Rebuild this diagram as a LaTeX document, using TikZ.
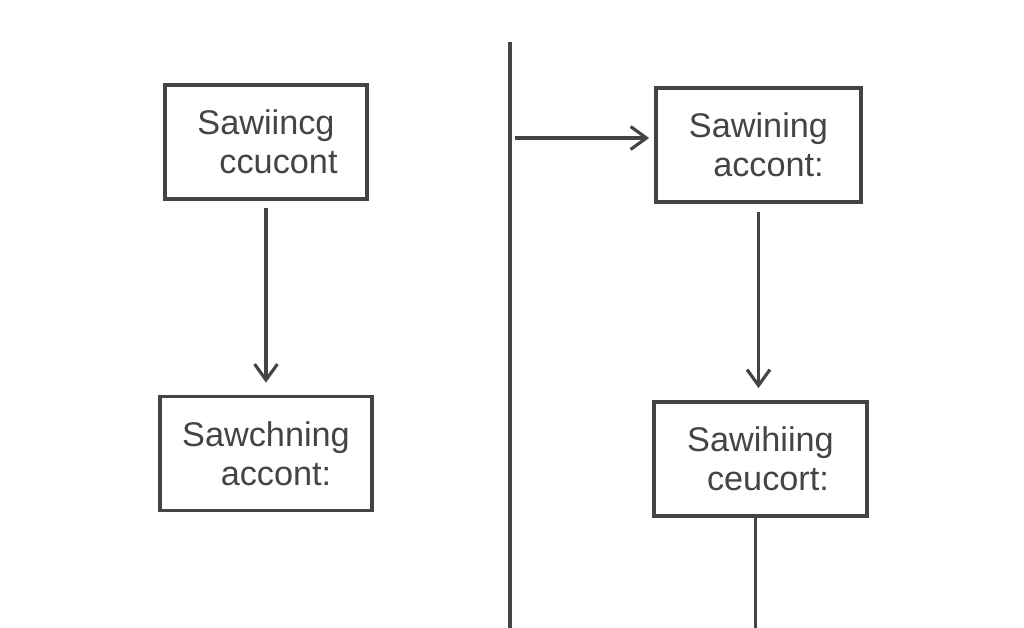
\documentclass[tikz,border=0pt]{standalone}
\usepackage{fontspec}
\setmainfont{Liberation Sans}
\usepackage{tikz}
\usetikzlibrary{positioning, arrows.meta}
\definecolor{pencil}{HTML}{444444}

\begin{document}
\begin{tikzpicture}[line width=1.8pt, color=pencil,
    >={Straight Barb[length=9pt, width=13pt, line width=1.8pt]},
    acct/.style={draw, align=center, inner sep=0pt, font=\fontsize{19.5}{22}\selectfont,
                 minimum height=2.28cm}]
\useasboundingbox (0, 0) rectangle (20.48, -12.56);

\node[acct, minimum width=4.04cm] (A) at (5.32, -2.84) {Sawiincg\\\hspace*{0.5cm}ccucont};
\node[acct, minimum width=4.24cm] (B) at (5.32, -9.07) {Sawchning\\\hspace*{0.4cm}accont:};
\node[acct, minimum width=4.10cm] (C) at (15.17, -2.90) {Sawining\\\hspace*{0.4cm}accont:};
\node[acct, minimum width=4.26cm] (D) at (15.21, -9.18) {Sawihiing\\\hspace*{0.3cm}ceucort:};

\coordinate (top) at (10.2, -0.84);
\coordinate (bot) at (10.2, -12.56);
\coordinate (from) at (10.3, -2.76);

\draw (top) -- (bot);
\draw [->, shorten >=3pt] (from) -- (from -| C.west);
\draw [->, shorten <=4pt, shorten >=7pt] (A) -- (B);
\draw [->, shorten <=5pt, shorten >=7pt] (C.south) -- (C.south |- D.north);
\draw ([xshift=-3pt]D.south) -- ([xshift=-3pt]D.south |- bot);
\end{tikzpicture}
\end{document}
